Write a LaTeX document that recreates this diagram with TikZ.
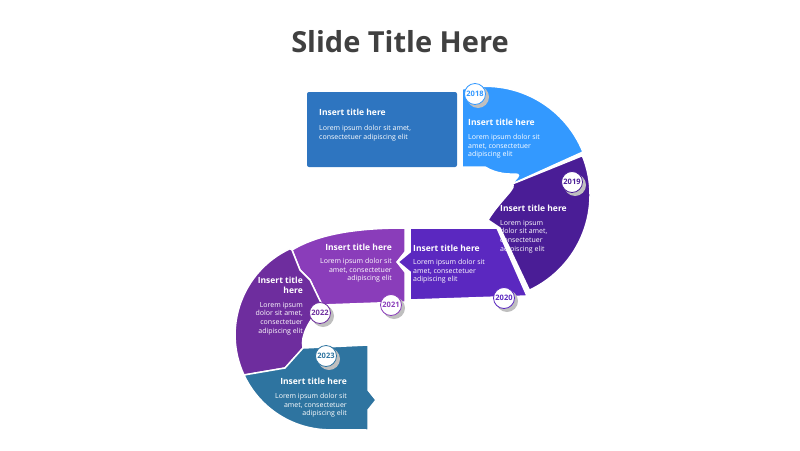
\documentclass[tikz,border=0pt]{standalone}
\usepackage{fontspec}
\setmainfont{Open Sans}
\usepackage{xcolor}
\usetikzlibrary{positioning,calc}

\definecolor{topblue}{HTML}{2E75C0}
\definecolor{skyblue}{HTML}{3399FF}
\definecolor{deepviolet}{HTML}{4A1D96}
\definecolor{violet}{HTML}{5B28C0}
\definecolor{orchid}{HTML}{8A3DBA}
\definecolor{plum}{HTML}{6E2D9E}
\definecolor{steel}{HTML}{2E74A0}
\definecolor{titlegray}{HTML}{404040}

\begin{document}
\begin{tikzpicture}[x=1pt,y=-1pt,
        seg/.style={draw=white, line width=1.5pt},
        year/.style={circle, draw=#1, line width=0.8pt, fill=white, minimum size=21pt, inner sep=0pt, font=\fontsize{7.5}{8}\selectfont\bfseries, text=#1},
        head/.style={font=\fontsize{8.5}{10}\selectfont\bfseries, text=white, inner sep=0pt},
        body/.style={font=\fontsize{7}{8.6}\selectfont, text=white, inner sep=0pt}]

\useasboundingbox (0,0) rectangle (800,450);

\node[font=\fontsize{29}{32}\selectfont\bfseries, text=titlegray] (title) at (400,42) {Slide Title Here};

% upper turn
\coordinate (c1) at (485,195);
\fill[topblue, rounded corners=2pt] (307,92) rectangle (457,167);
\filldraw[skyblue, seg] (462,89) arc[start angle=-103, end angle=-22, radius=105]
   -- ($(c1)+(-22:28)$) .. controls (530,165) and (510,182) .. (485,167) -- (462,167) -- cycle;
\filldraw[deepviolet, seg] ($(c1)+(-22:105)$) arc[start angle=-22, end angle=65, radius=105]
   -- (500,228) -- (488,220) .. controls (500,200) and (520,185) .. ($(c1)+(-22:28)$) -- cycle;
\filldraw[violet, seg] (410,228) -- (497,228) -- (527,296) -- (410,300) -- (410,272) -- (398,262) -- (410,252) -- cycle;

% lower turn
\coordinate (c2) at (330,335);
\filldraw[orchid, seg] (292,250) .. controls (320,233) and (360,228) .. (405,228) -- (405,252) -- (397,262) -- (405,272)
   -- (405,302) -- (322,305) -- (310,280) -- (300,270) -- cycle;
\filldraw[plum, seg] (292,250) -- (300,270) -- (310,280) -- (322,305) .. controls (310,320) and (300,335) .. (303,348)
   -- (285,368) -- (244,375) arc[start angle=155, end angle=245, radius=95] -- cycle;
\filldraw[steel, seg] (244,375) arc[start angle=155, end angle=90, radius=95] -- (368,430) -- (368,410) -- (376,400)
   -- (368,390) -- (368,345) -- (303,348) -- (285,368) -- cycle;

% texts
\node[head, anchor=north west] (h0) at (319,109) {Insert title here};
\node[body, anchor=north west, align=left] (b0) at (319,125) {Lorem ipsum dolor sit amet,\\consectetuer adipiscing elit};
\node[head, anchor=north west] (h1) at (468,119) {Insert title here};
\node[body, anchor=north west, align=left] (b1) at (468,134) {Lorem ipsum dolor sit\\amet, consectetuer\\adipiscing elit};
\node[head, anchor=north west] (h2) at (500,205) {Insert title here};
\node[body, anchor=north west, align=left] (b2) at (500,220) {Lorem ipsum\\dolor sit amet,\\consectetuer\\adipiscing elit};
\node[head, anchor=north west] (h3) at (413,245) {Insert title here};
\node[body, anchor=north west, align=left] (b3) at (413,259) {Lorem ipsum dolor sit\\amet, consectetuer\\adipiscing elit};
\node[head, anchor=north east] (h4) at (392,244) {Insert title here};
\node[body, anchor=north east, align=right] (b4) at (392,258) {Lorem ipsum dolor sit\\amet, consectetuer\\adipiscing elit};
\node[head, anchor=north east, align=right] (h5) at (303,277) {Insert title\\here};
\node[body, anchor=north east, align=right] (b5) at (303,302) {Lorem ipsum\\dolor sit amet,\\consectetuer\\adipiscing elit};
\node[head, anchor=north east] (h6) at (347,378) {Insert title here};
\node[body, anchor=north east, align=right] (b6) at (347,393) {Lorem ipsum dolor sit\\amet, consectetuer\\adipiscing elit};

% year badges
\foreach \name/\px/\py/\col/\yr in {y18/475/94/skyblue/2018, y19/572/182/deepviolet/2019,
    y20/504/298/violet/2020, y21/391/305/orchid/2021, y22/320/313/plum/2022, y23/326/356/steel/2023}{
  \fill[black!25] (\px+3,\py+3) circle[radius=11];
  \node[year=\col] (\name) at (\px,\py) {\yr};
}
\end{tikzpicture}
\end{document}
